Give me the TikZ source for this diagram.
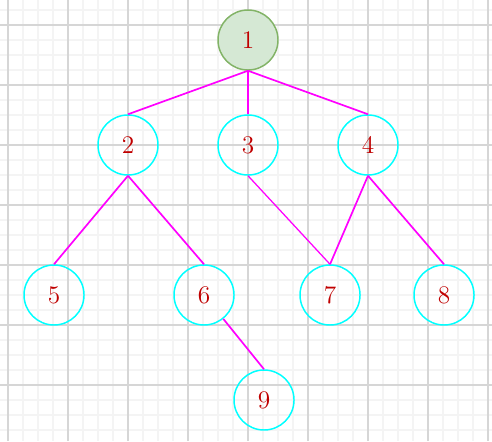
\documentclass[tikz,border=0pt]{standalone}
\usetikzlibrary{
    calc,
    shapes.geometric
}
\definecolor{rootfill}{HTML}{D5E8D4}
\definecolor{rootline}{HTML}{82B366}
\definecolor{labelred}{HTML}{C00000}
\definecolor{nodecyan}{HTML}{00FFFF}
\definecolor{edgemagenta}{HTML}{FF00FF}
\definecolor{gridmajor}{HTML}{D6D6D6}
\definecolor{gridminor}{HTML}{F4F4F4}
\tikzset{
  vertex/.style={
    draw=nodecyan,
    circle,
    line width=0.7pt,
    minimum size=1cm,
    inner sep=1.5pt,
    text=labelred,
    font=\large
  },
  rootvertex/.style={
    vertex,
    draw=rootline,
    fill=rootfill
  },
  edge/.style={
    edgemagenta,
    line width=0.8pt
  }
}

\begin{document}
\begin{tikzpicture}
    \useasboundingbox (-0.1333,0.0667) rectangle (8.0667,7.4167);
    % 方眼
    \draw[gridminor, line width=0.5pt, step=0.25] (-0.1333,0.0667) grid (8.0667,7.4167);
    \draw[gridmajor, line width=0.5pt, step=1] (-0.1333,0.0667) grid (8.0667,7.4167);

    % 頂点
    \node[rootvertex] (n1) at (4,6.75) {1};
    \node[vertex] (n2) at (2,5) {2};
    \node[vertex] (n3) at (4,5) {3};
    \node[vertex] (n4) at (6,5) {4};
    \node[vertex] (n5) at (0.767,2.5) {5};
    \node[vertex] (n6) at (3.267,2.5) {6};
    \node[vertex] (n7) at (5.367,2.5) {7};
    \node[vertex] (n8) at (7.267,2.5) {8};
    \node[vertex] (n9) at (4.267,0.75) {9};

    % 辺
    \draw[edge] (n1.south) -- (n2.north);
    \draw[edge] (n1.south) -- (n3.north);
    \draw[edge] (n1.south) -- (n4.north);
    \draw[edge] (n2.south) -- (n5.north);
    \draw[edge] (n2.south) -- (n6.north);
    \draw[edge, line width=0.6pt] (n3.south) -- (n7.north);
    \draw[edge] (n4.south) -- (n7.north);
    \draw[edge] (n4.south) -- (n8.north);
    \draw[edge] (n6) -- (n9.north);
    \end{tikzpicture}
\end{document}
